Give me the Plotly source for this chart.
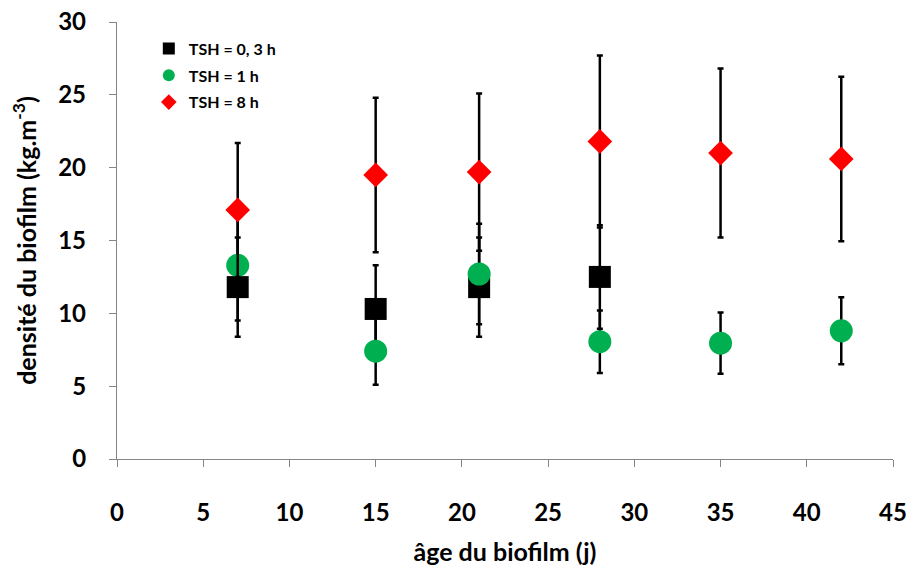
import plotly.graph_objects as go

days_black = [7, 15, 21, 28]
dens_black = [11.8, 10.3, 11.8, 12.5]
err_black = [3.4, 3.0, 3.4, 3.55]

days_green = [7, 15, 21, 28, 35, 42]
dens_green = [13.3, 7.4, 12.7, 8.05, 7.95, 8.8]
err_green = [3.8, 2.3, 3.45, 2.15, 2.1, 2.3]

days_red = [7, 15, 21, 28, 35, 42]
dens_red = [17.1, 19.5, 19.7, 21.8, 21.0, 20.6]
err_red = [4.6, 5.3, 5.4, 5.9, 5.8, 5.65]

x_ticks = [0, 5, 10, 15, 20, 25, 30, 35, 40, 45]
y_ticks = [0, 5, 10, 15, 20, 25, 30]

FONT = "Lato"

def trace(x, y, e, name, color, symbol, size):
    return go.Scatter(
        x=x, y=y, mode="markers", name=name, legendgroup=name,
        marker=dict(color=color, symbol=symbol, size=size, line=dict(width=0)),
        error_y=dict(type="data", array=e, visible=True, color="black",
                     thickness=2.5, width=3),
    )

fig = go.Figure()
fig.add_trace(trace(days_black, dens_black, err_black, "TSH = 0, 3 h", "black", "square", 22))
fig.add_trace(trace(days_green, dens_green, err_green, "TSH = 1 h", "#00B050", "circle", 23))
fig.add_trace(trace(days_red, dens_red, err_red, "TSH = 8 h", "#FF0000", "diamond", 19))

axis_common = dict(
    showgrid=False, zeroline=False, showline=True, linecolor="#868686", linewidth=1.3,
    ticks="outside", ticklen=7, tickcolor="#868686", tickwidth=1.3,
    tickfont=dict(family=FONT, size=24, color="black", weight="bold"),
    automargin=False, tickmode="array", ticklabeloverflow="allow",
)

# page body has an 8px default margin; compensate in figure size/margins
fig.update_layout(
    width=906, height=562,
    margin=dict(l=109, r=21, t=14, b=111),
    plot_bgcolor="white", paper_bgcolor="white",
    showlegend=True,
    legend=dict(x=0.041, y=0.978, xanchor="left", yanchor="top",
                font=dict(family=FONT, size=16, color="black", weight="bold"),
                bgcolor="rgba(0,0,0,0)", itemsizing="constant",
                tracegroupgap=3),
    xaxis=dict(range=[0, 45], tickvals=x_ticks, ticktext=[str(v) for v in x_ticks],
               ticklabelstandoff=25,
               title=dict(text="âge du biofilm (j)", standoff=18,
                          font=dict(family=FONT, size=25, color="black", weight="bold")),
               **axis_common),
    yaxis=dict(range=[0, 30], tickvals=y_ticks, ticktext=[str(v) for v in y_ticks],
               ticklabelstandoff=18,
               title=dict(text="densité du biofilm (kg.m<sup>-3</sup>)", standoff=27,
                          font=dict(family=FONT, size=25, color="black", weight="bold")),
               **axis_common),
)

fig.write_html("out.html")
